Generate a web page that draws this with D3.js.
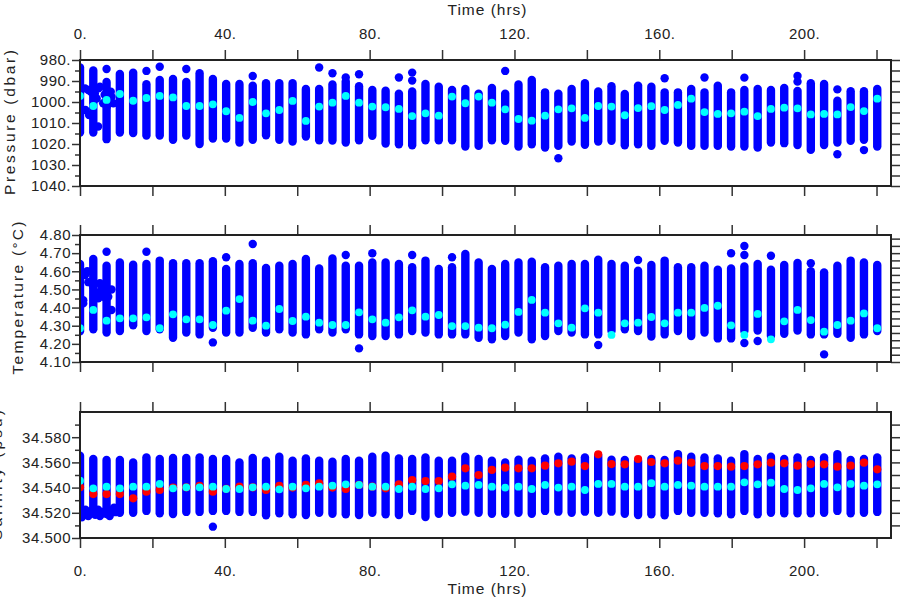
<!DOCTYPE html>
<html>
<head>
<meta charset="utf-8">
<script src="https://cdn.jsdelivr.net/npm/d3@7"></script>
<style>
  body { margin: 0; background: #fff; }
  svg { display: block; }
  text { font-family: "Liberation Sans", Arial, sans-serif; fill: #222; }
</style>
</head>
<body>
<svg id="chart" width="900" height="600"></svg>
<script>
// ---------------- DATA ----------------
// cast (column) times, hours
const times = [0,3.67,7.34,11.01,14.68,18.35,22.02,25.69,29.36,33.03,36.70,40.37,44.04,47.71,51.38,55.05,58.72,62.39,66.06,69.73,73.40,77.07,80.74,84.41,88.08,91.75,95.42,99.09,102.76,106.43,110.10,113.77,117.44,121.11,124.78,128.45,132.12,135.79,139.46,143.13,146.80,150.47,154.14,157.81,161.48,165.15,168.82,172.49,176.16,179.83,183.50,187.17,190.84,194.51,198.18,201.85,205.52,209.19,212.86,216.53,220.20];

// Pressure (dbar): shallowest / deepest sample of each cast, and cast mean
const presTop = [983.5,985,990.5,986.7,986,991.5,989.5,989,990.5,986.3,989,991.4,991.4,992.2,991,991,991,993.8,993.8,991.7,990.2,992.5,994.3,994.6,996,995,991.4,992.7,994.3,993.8,996,993.3,996,991.7,989.5,995.4,996,993.8,991,995,992.5,996.2,992.2,992.7,995.4,995.4,993.8,995.4,992.2,995.4,994.3,993.8,994.3,993.3,994.7,991.1,991.4,999.4,994.9,994.9,993.8];
const presBot = [1014.5,1014.5,1017.7,1014.5,1014.8,1016,1016,1018,1016,1020,1017.4,1017.4,1019.3,1018,1015.8,1018,1018.8,1016.4,1018.2,1018.3,1019.3,1018.2,1016.1,1019.8,1020.1,1020.6,1018.2,1018.2,1018.2,1021.2,1020.9,1018.2,1018.5,1021.2,1020.1,1021.7,1020.9,1018.8,1020.4,1018.8,1018.5,1020.6,1020.1,1020.8,1018.5,1019.3,1020.9,1020.9,1020.9,1021.2,1021.2,1021.7,1019.3,1019.6,1020.5,1022.8,1020.5,1019.3,1018.5,1018,1021.2];
const presMean = [997.1,1001.9,999,996.2,999.4,998.1,997.1,997.8,1001.9,1001.9,1001.1,1004.4,1007.6,1000,1005.4,1003.8,999.5,1009,1002.2,1000.3,997.1,1000.3,1002.2,1002.5,1003.3,1006.7,1005.4,1006.5,997.4,1000.6,997.4,1000.3,1003.5,1008.1,1008.9,1006.5,1003.5,1003,1007.6,1001.9,1002.2,1006.3,1002.9,1002,1003.8,1001.4,998.4,1004.8,1005.7,1005.4,1004.6,1006.7,1003.3,1002.7,1003,1005.9,1005.7,1005.9,1002.4,1004.3,998.4];
// isolated samples: [cast index, value]
const presOut = [[2,984.3],[5,985.2],[6,983.2],[8,984.3],[13,987.6],[18,983.6],[19,986.3],[20,988.3],[21,986.8],[24,988.3],[25,986],[25,989.8],[32,985.2],[36,1026.8],[44,988.7],[47,988.3],[50,988.4],[54,987.6],[54,990.3],[57,994],[57,1024.9],[59,1022.9]];
// first casts (irregular): [time, value]
const presEarly = [[1.4,993.5],[2.3,994.3],[3.0,995.1],[4.1,995.9],[5.1,993.5],[5.5,992.7],[4.6,998.3],[1.5,1003.8],[2.5,1006.2],[5.0,1011.7],[6.4,1000.6],[7.4,1002.2],[8.7,997.5],[9.2,1000.6],[8.5,995.1],[6.8,996.5]];

// Temperature (degC)
const tempTop = [4.64,4.668,4.631,4.649,4.636,4.64,4.659,4.644,4.644,4.644,4.655,4.613,4.64,4.644,4.618,4.631,4.64,4.668,4.616,4.671,4.631,4.631,4.649,4.649,4.64,4.622,4.659,4.613,4.622,4.695,4.649,4.613,4.64,4.649,4.653,4.622,4.631,4.64,4.64,4.664,4.64,4.631,4.603,4.635,4.659,4.622,4.622,4.631,4.609,4.616,4.627,4.64,4.609,4.635,4.646,4.60,4.594,4.631,4.659,4.649,4.635];
const tempBot = [4.27,4.28,4.262,4.271,4.302,4.271,4.28,4.234,4.262,4.252,4.289,4.262,4.262,4.289,4.262,4.28,4.262,4.252,4.28,4.262,4.28,4.252,4.243,4.243,4.252,4.271,4.262,4.252,4.252,4.252,4.234,4.225,4.243,4.262,4.225,4.243,4.271,4.262,4.252,4.252,4.271,4.28,4.271,4.24,4.252,4.271,4.243,4.262,4.23,4.23,4.271,4.274,4.243,4.256,4.274,4.252,4.252,4.256,4.234,4.252,4.271];
const tempMean = [4.286,4.387,4.328,4.341,4.341,4.346,4.286,4.363,4.335,4.335,4.304,4.383,4.447,4.328,4.30,4.392,4.326,4.35,4.317,4.304,4.304,4.374,4.335,4.317,4.346,4.385,4.35,4.359,4.298,4.298,4.289,4.286,4.306,4.376,4.442,4.372,4.313,4.289,4.396,4.372,4.249,4.313,4.317,4.348,4.313,4.372,4.372,4.398,4.41,4.302,4.249,4.365,4.225,4.324,4.387,4.331,4.267,4.304,4.328,4.368,4.286];
const tempOut = [[2,4.708],[5,4.708],[10,4.208],[11,4.677],[13,4.75],[20,4.69],[21,4.175],[22,4.699],[25,4.69],[28,4.677],[39,4.194],[42,4.662],[49,4.699],[50,4.739],[50,4.69],[50,4.205],[51,4.216],[52,4.686],[55,4.644],[56,4.142]];
const tempEarly = [[1.4,4.58],[2.0,4.60],[0.9,4.44],[2.3,4.54],[2.8,4.54],[3.7,4.515],[4.1,4.478],[4.6,4.46],[5.05,4.451],[5.5,4.488],[5.5,4.534],[6.4,4.46],[7.4,4.478],[7.8,4.46],[8.7,4.50],[8.7,4.387],[0.9,4.423],[3.2,4.60],[6.0,4.515]];

// Salinity (psu)
const salTop = [34.5653,34.5627,34.562,34.562,34.560,34.564,34.5627,34.5635,34.5635,34.564,34.5627,34.5627,34.560,34.5635,34.5613,34.5645,34.5613,34.5632,34.5613,34.5606,34.5627,34.5613,34.5645,34.5653,34.5632,34.5627,34.564,34.5613,34.5613,34.5645,34.5627,34.5613,34.560,34.5621,34.5613,34.5632,34.5645,34.5632,34.564,34.5653,34.5621,34.5619,34.5613,34.5627,34.5619,34.5666,34.5645,34.564,34.5632,34.5613,34.5666,34.5627,34.5645,34.5627,34.564,34.5619,34.564,34.5666,34.5619,34.5627,34.564];
const salBot = [34.5188,34.52,34.519,34.52,34.52,34.5215,34.5196,34.519,34.5207,34.5207,34.5215,34.5215,34.5207,34.5207,34.518,34.5196,34.5188,34.5183,34.52,34.5193,34.5188,34.5183,34.52,34.5188,34.5183,34.5215,34.5167,34.5193,34.52,34.5209,34.52,34.5193,34.5193,34.52,34.5193,34.5215,34.5209,34.52,34.5209,34.52,34.5209,34.5193,34.5183,34.5188,34.518,34.5215,34.52,34.52,34.5196,34.5188,34.5215,34.5188,34.52,34.5196,34.5196,34.5196,34.52,34.5215,34.5196,34.52,34.5207];
const salMean = [34.5455,34.5394,34.5407,34.5394,34.5407,34.5407,34.5429,34.5394,34.5402,34.5402,34.5407,34.5389,34.5389,34.5402,34.5407,34.5386,34.5407,34.5394,34.5407,34.5415,34.5426,34.5421,34.5407,34.5407,34.5389,34.5407,34.5389,34.5394,34.5426,34.5415,34.5421,34.5407,34.540,34.5407,34.5389,34.5421,34.540,34.5407,34.5381,34.5429,34.5429,34.5407,34.5407,34.5435,34.5407,34.5421,34.5415,34.5407,34.5407,34.5407,34.5442,34.5426,34.5439,34.5389,34.5381,34.5394,34.5429,34.5402,34.5429,34.5415,34.5426];
const salRed = [34.5402,34.5349,34.5349,34.5349,34.5315,34.5368,34.5381,34.540,34.5402,34.5413,34.5368,34.539,34.5407,34.5402,34.5381,34.5413,34.540,34.5421,34.5434,34.540,34.5389,34.5421,34.5407,34.5394,34.5426,34.546,34.5452,34.5452,34.5487,34.5553,34.550,34.554,34.5558,34.5553,34.5553,34.5574,34.5593,34.5606,34.5571,34.5664,34.5587,34.5585,34.5627,34.5603,34.5593,34.5614,34.5598,34.5571,34.5571,34.5566,34.5571,34.5585,34.5598,34.5593,34.5574,34.5587,34.5585,34.5566,34.5574,34.5598,34.5545];
const salOut = [[10,34.509]];
const salEarly = [[0.5,34.5165],[1.2,34.5185],[1.8,34.521],[2.3,34.5175],[2.9,34.5195],[3.4,34.522],[4.2,34.5185],[4.8,34.5205],[5.5,34.5175],[6.1,34.5195],[6.8,34.521],[7.6,34.519],[8.2,34.5175],[8.8,34.5215],[9.4,34.524],[9.8,34.5205],[1.5,34.5225],[5.0,34.5225]];

// axis ticks / labels
const xTicks = [0,20,40,60,80,100,120,140,160,180,200,220];
const xLabelled = [0,40,80,120,160,200];
const presMajor = [980,990,1000,1010,1020,1030,1040];
const presMinor = [985,995,1005,1015,1025,1035];
const presRight = [980,985,990,995,1000,1005,1010,1015,1020,1025,1030,1035,1040];
const tempMajor = [4.1,4.2,4.3,4.4,4.5,4.6,4.7,4.8];
const tempMinor = [4.15,4.25,4.35,4.45,4.55,4.65,4.75];
const tempRight = [4.10,4.14,4.18,4.22,4.26,4.30,4.34,4.38,4.42,4.46,4.50,4.54,4.58,4.62,4.66,4.70,4.74,4.78];
const salMajor = [34.50,34.52,34.54,34.56,34.58];
const salMinor = [34.51,34.53,34.55,34.57,34.59];
const salRight = [34.51,34.52,34.53,34.54,34.55,34.56,34.57,34.58,34.59];

// ---------------- DRAW ----------------
const svg = d3.select("#chart");
const L = 80, R = 891;
const x = d3.scaleLinear().domain([0, 224]).range([L, R]);

const BLUE = "#0000ff", CYAN = "#00ffff", RED = "#ff0000", INK = "#222";

function panel(o) {
  const y = d3.scaleLinear().domain(o.domain).range(o.range);
  const top = Math.min(...o.range), bot = Math.max(...o.range);
  const g = svg.append("g");
  const clipId = "clip" + o.id;
  svg.append("clipPath").attr("id", clipId)
    .append("rect").attr("x", L).attr("y", top).attr("width", R - L).attr("height", bot - top);
  const marks = g.append("g").attr("clip-path", `url(#${clipId})`);

  // cast columns
  marks.selectAll("line.col").data(times).join("line")
    .attr("x1", d => x(d)).attr("x2", d => x(d))
    .attr("y1", (d, i) => y(o.top[i])).attr("y2", (d, i) => y(o.bot[i]))
    .attr("stroke", BLUE).attr("stroke-width", 8.4).attr("stroke-linecap", "round");
  marks.selectAll("circle.out").data(o.out).join("circle")
    .attr("cx", d => x(times[d[0]])).attr("cy", d => y(d[1])).attr("r", 4.2).attr("fill", BLUE);
  marks.selectAll("circle.early").data(o.early).join("circle")
    .attr("cx", d => x(d[0])).attr("cy", d => y(d[1])).attr("r", 4.2).attr("fill", BLUE);
  if (o.red) {
    marks.selectAll("circle.red").data(o.red).join("circle")
      .attr("cx", (d, i) => x(times[i])).attr("cy", d => y(d)).attr("r", 4.1).attr("fill", RED);
  }
  marks.selectAll("circle.mean").data(o.mean).join("circle")
    .attr("cx", (d, i) => x(times[i])).attr("cy", d => y(d)).attr("r", 3.9).attr("fill", CYAN);

  // axes
  const ax = svg.append("g").attr("class", "axes");
  ax.append("g").attr("transform", `translate(${L},0)`)
    .call(d3.axisLeft(y).tickValues(o.major).tickSize(8).tickPadding(1).tickFormat(o.fmt));
  ax.append("g").attr("transform", `translate(${L},0)`)
    .call(d3.axisLeft(y).tickValues(o.minor).tickSize(5).tickFormat(""));
  ax.append("g").attr("transform", `translate(${R},0)`)
    .call(d3.axisRight(y).tickValues(o.right).tickSize(9).tickFormat(""));
  ax.append("g").attr("transform", `translate(0,${top})`)
    .call(d3.axisTop(x).tickValues(xTicks).tickSize(10).tickPadding(11)
      .tickFormat(d => (o.topLabels && xLabelled.includes(d)) ? d + "." : ""));
  ax.append("g").attr("transform", `translate(0,${bot})`)
    .call(d3.axisBottom(x).tickValues(xTicks).tickSize(10).tickPadding(17)
      .tickFormat(d => (o.bottomLabels && xLabelled.includes(d)) ? d + "." : ""));
  ax.selectAll(".domain").remove();
  ax.selectAll(".tick line").attr("stroke", "#333").attr("stroke-width", 1.5);
  ax.selectAll(".tick text").attr("fill", INK).style("font-size", "15px")
    .style("letter-spacing", "0.5px").style("font-family", '"Liberation Sans", Arial, sans-serif');

  // frame
  svg.append("rect").attr("x", L).attr("y", top).attr("width", R - L).attr("height", bot - top)
    .attr("fill", "none").attr("stroke", INK).attr("stroke-width", 2);

  // y title
  svg.append("text")
    .attr("transform", `translate(${o.titleX},${o.titleY}) rotate(-90)`)
    .attr("text-anchor", "middle")
    .attr("textLength", o.titleLen).attr("lengthAdjust", "spacing")
    .style("font-size", "15.5px")
    .text(o.title);
}

panel({ id: "p", domain: [980, 1040], range: [60, 186],
  top: presTop, bot: presBot, mean: presMean, out: presOut, early: presEarly,
  major: presMajor, minor: presMinor, right: presRight, fmt: d => d + ".",
  topLabels: true, bottomLabels: false,
  title: "Pressure (dbar)", titleX: 14.5, titleY: 122.5, titleLen: 145 });

panel({ id: "t", domain: [4.1, 4.8], range: [362, 235],
  top: tempTop, bot: tempBot, mean: tempMean, out: tempOut, early: tempEarly,
  major: tempMajor, minor: tempMinor, right: tempRight, fmt: d3.format(".2f"),
  topLabels: false, bottomLabels: false,
  title: "Temperature (\u00B0C)", titleX: 22.5, titleY: 298, titleLen: 153 });

panel({ id: "s", domain: [34.5, 34.6], range: [538, 412],
  top: salTop, bot: salBot, mean: salMean, red: salRed, out: salOut, early: salEarly,
  major: salMajor, minor: salMinor, right: salRight, fmt: d3.format(".3f"),
  topLabels: false, bottomLabels: true,
  title: "Salinity (psu)", titleX: 1.5, titleY: 475, titleLen: 130 });

// x titles
svg.append("text").attr("x", 487).attr("y", 14.5).attr("text-anchor", "middle")
  .attr("textLength", 79).attr("lengthAdjust", "spacing").style("font-size", "15.5px").text("Time (hrs)");
svg.append("text").attr("x", 487).attr("y", 594).attr("text-anchor", "middle")
  .attr("textLength", 79).attr("lengthAdjust", "spacing").style("font-size", "15.5px").text("Time (hrs)");
</script>
</body>
</html>
